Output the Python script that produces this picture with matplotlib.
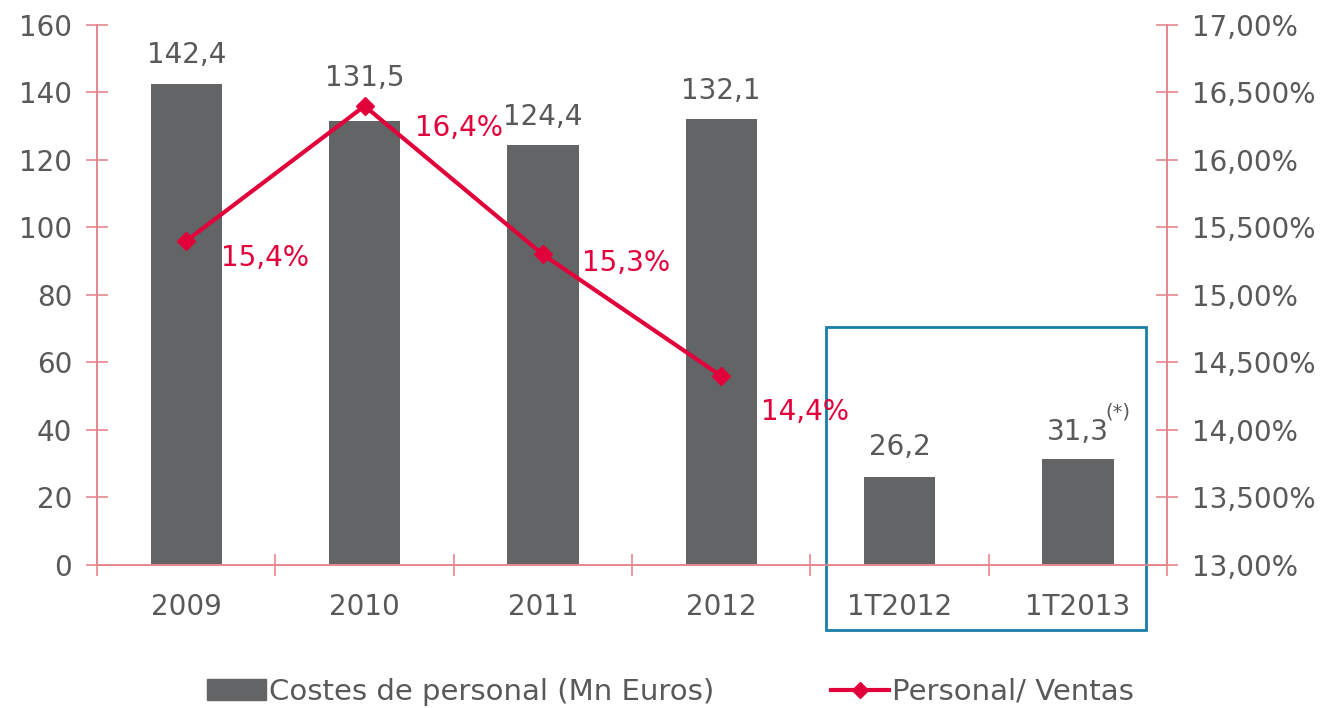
import matplotlib.pyplot as plt
from matplotlib.patches import Rectangle
from matplotlib.lines import Line2D
from matplotlib.ticker import FixedLocator

categories = ['2009', '2010', '2011', '2012', '1T2012', '1T2013']
costes = [142.4, 131.5, 124.4, 132.1, 26.2, 31.3]
ratio = [15.4, 16.4, 15.3, 14.4]
left_ticks = [0, 20, 40, 60, 80, 100, 120, 140, 160]
right_ticks = [13.0, 13.5, 14.0, 14.5, 15.0, 15.5, 16.0, 16.5, 17.0]
right_labels = ['13,00%', '13,500%', '14,00%', '14,500%', '15,00%',
                '15,500%', '16,00%', '16,500%', '17,00%']

bar_col = '#636466'
red = '#E2003B'
axis_col = '#E8868E'
text_col = '#595959'
box_col = '#1A7FA6'

plt.rcParams['font.family'] = ['DejaVu Sans']
fig = plt.figure(figsize=(13.33, 7.08), dpi=100)
ax = fig.add_axes([0.0728, 0.202, 0.8027, 0.7627])
ax2 = ax.twinx()

x = list(range(len(categories)))
ax.bar(x, costes, width=0.4, color=bar_col, zorder=2)
# label gaps above bars (points); 2010 is pushed up to clear the line
gaps = [21, 31, 20, 20, 21, 20]
for xi, v, g in zip(x, costes, gaps):
    ax.annotate(f'{v:.1f}'.replace('.', ','), (xi, v), xytext=(0, g),
                textcoords='offset points', ha='center', va='center',
                fontsize=20, color=text_col)
ax.annotate('(*)', (5, 31.3), xytext=(20, 34), textcoords='offset points',
            fontsize=14, color=text_col, ha='left', va='center')

ax.set_xlim(-0.5, 5.5)
ax.set_ylim(0, 160)
ax.set_yticks(left_ticks)
ax.set_xticks(x)
ax.set_xticklabels(categories)
ax.xaxis.set_minor_locator(FixedLocator([i + 0.5 for i in range(-1, 6)]))
ax.tick_params(axis='x', which='major', length=0, pad=20, labelsize=20, labelcolor=text_col)
ax.tick_params(axis='x', which='minor', length=16, direction='inout', color=axis_col, width=1.2)
ax.tick_params(axis='y', length=16, direction='inout', color=axis_col, width=1.2,
               labelsize=20, labelcolor=text_col, pad=10)

ax2.plot(x[:len(ratio)], ratio, color=red, lw=3, marker='D', ms=9, zorder=3)
offsets = [(25, -12), (36, -16), (28, -6), (29, -26)]
for xi, v, off in zip(x, ratio, offsets):
    ax2.annotate(f'{v:.1f}%'.replace('.', ','), (xi, v), xytext=off,
                 textcoords='offset points', ha='left', va='center',
                 fontsize=20, color=red)
ax2.set_ylim(13, 17)
ax2.set_yticks(right_ticks)
ax2.set_yticklabels(right_labels)
ax2.tick_params(axis='y', length=16, direction='inout', color=axis_col, width=1.2,
                labelsize=20, labelcolor=text_col, pad=10)

for a in (ax, ax2):
    a.spines['top'].set_visible(False)
    for s in ['left', 'right', 'bottom']:
        a.spines[s].set_color(axis_col)
        a.spines[s].set_linewidth(1.2)

# box around quarterly bars
ax.add_patch(Rectangle((3.59, -19.3), 1.79, 89.8, fill=False, ec=box_col, lw=2,
                       clip_on=False, zorder=4))

handles = [Rectangle((0, 0), 1, 1, color=bar_col),
           Line2D([], [], color=red, lw=3, marker='D', ms=8)]
fig.legend(handles, ['Costes de personal (Mn Euros)', 'Personal/ Ventas'],
           loc='center', bbox_to_anchor=(0.503, 0.023), ncol=2, frameon=False,
           fontsize=21, labelcolor=text_col, handlelength=2.0, handletextpad=0.1,
           columnspacing=4.0)

fig.savefig('out.png', dpi=100)
